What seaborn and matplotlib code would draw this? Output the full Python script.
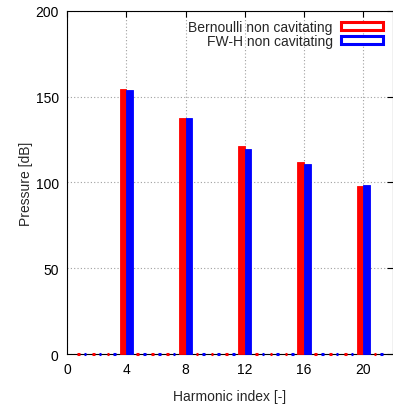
import pandas as pd
import seaborn as sns
import matplotlib.pyplot as plt
from matplotlib.patches import Patch

# harmonic indices and the two series (dB)
harmonics = list(range(1, 22))
bernoulli_peaks = {4: 154.2, 8: 137.6, 12: 121.0, 16: 112.0, 20: 97.8}
fwh_peaks = {4: 154.1, 8: 137.6, 12: 119.3, 16: 110.8, 20: 98.7}
bernoulli = [bernoulli_peaks.get(h, 0.0) for h in harmonics]
fwh = [fwh_peaks.get(h, 0.0) for h in harmonics]
series_names = ['Bernoulli non cavitating', 'FW-H non cavitating']
colors = ['#ff0000', '#0000ff']

df = pd.DataFrame({
    'Harmonic': harmonics * 2,
    'Pressure': bernoulli + fwh,
    'Series': [series_names[0]] * len(harmonics) + [series_names[1]] * len(harmonics),
})

sns.set_style('white')
plt.rcParams['font.family'] = ['Liberation Sans', 'DejaVu Sans']
plt.rcParams['font.size'] = 10

fig = plt.figure(figsize=(3.93, 4.06), dpi=100)
ax = fig.add_axes([0.1705, 0.1256, 0.8295, 0.845])

sns.barplot(data=df, x='Harmonic', y='Pressure', hue='Series', native_scale=True,
            palette=colors, saturation=1, width=0.9, legend=False, ax=ax, zorder=3)

# zero-height bars show up as short dashes on the axis
for p in ax.patches:
    p.set_edgecolor(p.get_facecolor())
    p.set_clip_on(False)
    if p.get_height() == 0:
        w = p.get_width()
        p.set_x(p.get_x() + w * 0.3)
        p.set_width(w * 0.4)
        p.set_linewidth(2.2)
    else:
        p.set_linewidth(0.6)

ax.set_xlim(0, 22)
ax.set_ylim(0, 200)
ax.set_xticks([0, 4, 8, 12, 16, 20])
ax.set_yticks([0, 50, 100, 150, 200])
ax.tick_params(direction='in', length=4, width=0.8, top=True, right=True,
               labelsize=10, colors='black', pad=6)
for s in ax.spines.values():
    s.set_color('black')
    s.set_linewidth(0.8)
ax.grid(True, color='#a0a0a0', linestyle=(0, (1, 2)), linewidth=0.8, zorder=0)
ax.set_axisbelow(True)

ax.set_xlabel('Harmonic index [-]', fontsize=10, labelpad=9)
ax.set_ylabel('Pressure [dB]', fontsize=10, labelpad=2)

handles = [Patch(facecolor='white', edgecolor=c, linewidth=2.2) for c in colors]
ax.legend(handles, series_names, loc='upper right', frameon=False, markerfirst=False,
          fontsize=10, handlelength=3.0, handleheight=0.6, handletextpad=0.6,
          labelspacing=0.0, borderaxespad=0.0, bbox_to_anchor=(0.985, 0.99))

fig.savefig('out.png', dpi=100)
